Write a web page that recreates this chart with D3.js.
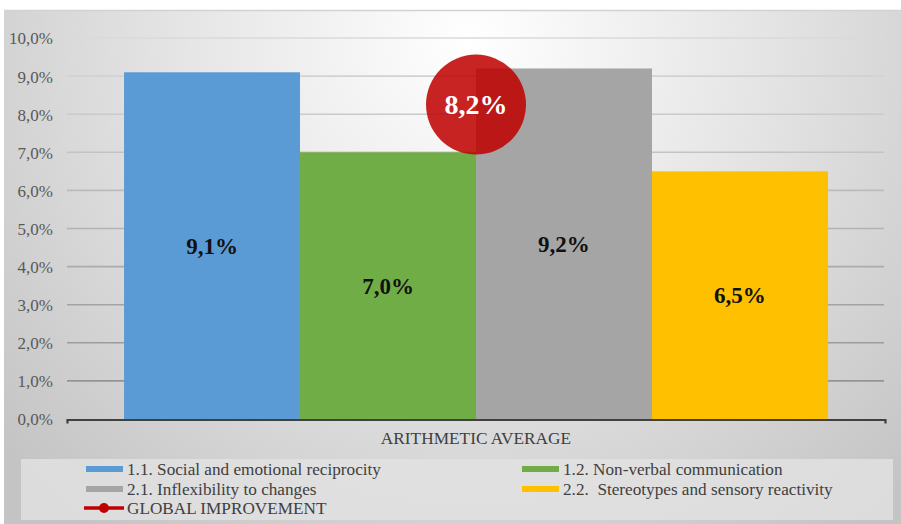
<!DOCTYPE html>
<html><head><meta charset="utf-8">
<script src="https://cdn.jsdelivr.net/npm/d3@7"></script>
<style>html,body{margin:0;padding:0;background:#fff;}svg{display:block;}</style>
</head><body>
<svg id="chart" width="901" height="524"></svg>
<script>
const groupLabel = "ARITHMETIC AVERAGE";
const categories = ["1.1. Social and emotional reciprocity", "1.2. Non-verbal communication", "2.1. Inflexibility to changes", "2.2.  Stereotypes and sensory reactivity"];
const values = [9.1, 7.0, 9.2, 6.5];
const globalName = "GLOBAL IMPROVEMENT";
const globalValue = 8.2;
const tickValues = [0,1,2,3,4,5,6,7,8,9,10];
const colors = ["#5B9BD5", "#70AD47", "#A5A5A5", "#FFC000"];

const loc = d3.formatLocale({decimal:",", thousands:".", grouping:[3], currency:["","€"]});
const pct = v => loc.format(".1f")(v) + "%";
const FONT = "Liberation Serif";

const svg = d3.select("#chart").attr("font-family", FONT);
const defs = svg.append("defs");
const rg = defs.append("radialGradient").attr("id","bg")
  .attr("gradientUnits","userSpaceOnUse").attr("cx",470).attr("cy",40).attr("r",620);
rg.append("stop").attr("offset","0%").attr("stop-color","#ffffff");
rg.append("stop").attr("offset","45%").attr("stop-color","#e6e6e6");
rg.append("stop").attr("offset","100%").attr("stop-color","#c4c4c4");

svg.append("rect").attr("x",4).attr("y",10).attr("width",897).attr("height",514).attr("fill","url(#bg)");
svg.append("line").attr("x1",4).attr("x2",901).attr("y1",10.5).attr("y2",10.5).attr("stroke","#d2d2d2").attr("stroke-width",1.5);

const y = d3.scaleLinear().domain([0,10]).range([419,38]);
const x0 = d3.scaleBand().domain([groupLabel]).range([67,885]).paddingInner(0).paddingOuter(0.081);
const x1 = d3.scaleBand().domain(categories).range([x0(groupLabel), x0(groupLabel)+x0.bandwidth()]).padding(0);

const gridCol = d3.interpolateRgb("#8c8c8c", "#dadada");
svg.append("g").selectAll("line").data(tickValues.filter(t=>t>0)).join("line")
  .attr("x1",67).attr("x2",884).attr("y1",d=>y(d)).attr("y2",d=>y(d))
  .attr("stroke",d=>gridCol(d/10)).attr("stroke-width",1.6);

const yAxis = d3.axisLeft(y).tickValues(tickValues).tickFormat(d=>pct(d)).tickSize(0).tickPadding(0);
const ya = svg.append("g").attr("transform","translate(53,0)").call(yAxis);
ya.attr("font-family", FONT).attr("font-size",17);
ya.select(".domain").remove();
ya.selectAll("text").attr("fill","#595959").attr("dy","0.35em");

svg.append("g").selectAll("rect").data(values).join("rect")
  .attr("x",(d,i)=>x1(categories[i])).attr("width",x1.bandwidth())
  .attr("y",d=>y(d)).attr("height",d=>y(0)-y(d)).attr("fill",(d,i)=>colors[i]);

svg.append("g").selectAll("text").data(values).join("text")
  .attr("x",(d,i)=>x1(categories[i])+x1.bandwidth()/2).attr("y",d=>(y(d)+y(0))/2)
  .attr("dy","0.35em").attr("text-anchor","middle")
  .attr("font-weight","bold").attr("font-size",23).attr("fill","#111")
  .text(d=>pct(d));

const xa = d3.axisBottom(x0).tickSize(0).tickSizeOuter(4).tickFormat("");
const xg = svg.append("g").attr("transform","translate(0,419.5)").call(xa);
xg.select(".domain").attr("stroke","#404040").attr("stroke-width",2.2);
svg.append("text").attr("x",x0(groupLabel)+x0.bandwidth()/2).attr("y",444).attr("text-anchor","middle")
  .attr("font-size",17.3).attr("fill","#404040").text(groupLabel);

const gx = x0(groupLabel)+x0.bandwidth()/2;
svg.append("circle").attr("cx",gx).attr("cy",y(globalValue)-2).attr("r",50).attr("fill","#C00000").attr("fill-opacity",0.86);
svg.append("text").attr("x",gx).attr("y",y(globalValue)-2).attr("dy","0.35em").attr("text-anchor","middle")
  .attr("font-weight","bold").attr("font-size",28).attr("fill","#fff")
  .text(pct(globalValue));

svg.append("rect").attr("x",21).attr("y",459).attr("width",872).attr("height",61).attr("fill","#e2e2e2").attr("fill-opacity",0.8);
const legendItems = categories.map((c,i)=>({name:c,color:colors[i],type:"bar"}));
legendItems.push({name:globalName,color:"#C00000",type:"line"});
const pos = [[86,469],[522,469],[86,489],[522,489],[86,508]];
const lg = svg.append("g").selectAll("g").data(legendItems).join("g").attr("transform",(d,i)=>`translate(${pos[i][0]},${pos[i][1]})`);
lg.filter(d=>d.type==="bar").append("rect").attr("x",0).attr("y",-3).attr("width",37).attr("height",6).attr("fill",d=>d.color);
lg.filter(d=>d.type==="line").append("line").attr("x1",-2).attr("x2",38).attr("y1",0).attr("y2",0).attr("stroke",d=>d.color).attr("stroke-width",3.5);
lg.filter(d=>d.type==="line").append("circle").attr("cx",18).attr("cy",0).attr("r",5).attr("fill",d=>d.color);
lg.append("text").attr("x",41).attr("y",0).attr("dy","0.35em")
  .attr("font-size",17.2).attr("fill","#404040")
  .style("white-space","pre").text(d=>d.name);
</script>
</body></html>
